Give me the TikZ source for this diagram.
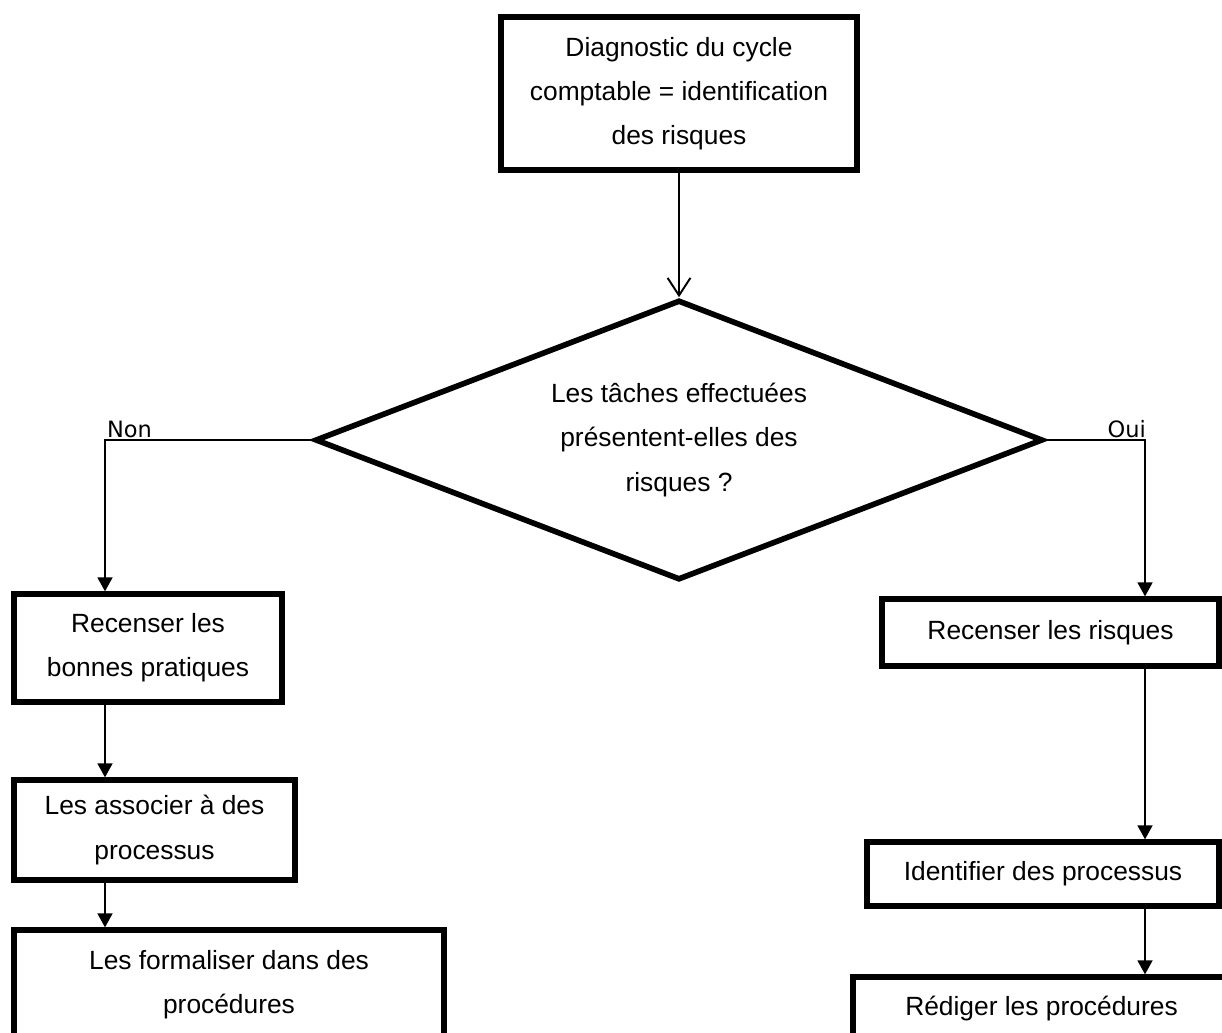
\documentclass[tikz,border=0pt]{standalone}
\usepackage{fontspec}
\setmainfont{Liberation Sans}
\newfontfamily\reponsefont{DejaVu Sans}
\usetikzlibrary{
	shapes.geometric,
	arrows.meta
}
\tikzset{
	x=0.02cm,
	y=-0.02cm,
	etape/.style={
		draw, line width=3pt, align=center, inner sep=0pt,
		font=\fontsize{15pt}{25.2pt}\selectfont
	},
	decision/.style={
		draw, diamond, aspect=2.6, line width=3.2pt, align=center, inner sep=0pt,
		font=\fontsize{15pt}{25.2pt}\selectfont
	},
	fleche/.style={
		line width=1.1pt,
		-{Triangle[width=8.5pt,length=8pt]}
	},
	reponse/.style={
		font=\reponsefont\fontsize{12.8pt}{15pt}\selectfont,
		inner sep=1pt
	}
}

\begin{document}
\begin{tikzpicture}
	\useasboundingbox (0,0) rectangle (1222,1032);
	\draw
		node[etape,minimum width=7.12cm,minimum height=3.06cm] (diag) at (679,93.5) {Diagnostic du cycle\\comptable = identification\\des risques}
		node[decision,minimum width=14.56cm,minimum height=5.6cm] (taches) at (679,440) {Les tâches effectuées\\présentent-elles des\\risques ?}

		node[etape,minimum width=5.36cm,minimum height=2.16cm] (bonnes) at (148,648) {Recenser les\\bonnes pratiques}
		node[etape,minimum width=5.62cm,minimum height=2cm] (associer) at (154.5,830) {Les associer à des\\processus}
		node[etape,minimum width=8.6cm,minimum height=2.2cm] (formaliser) at (229,985) {Les formaliser dans des\\procédures}

		node[etape,minimum width=6.74cm,minimum height=1.34cm] (risques) at (1050.5,632.5) {Recenser les risques}
		node[etape,minimum width=7.04cm,minimum height=1.28cm] (processus) at (1043,874) {Identifier des processus}
		node[etape,minimum width=7.54cm,minimum height=1.26cm] (rediger) at (1041.5,1008.5) {Rédiger les procédures}
	;
	\coordinate (non) at (105,440);
	\coordinate (oui) at (1145,440);
	\node[reponse,anchor=south west] (lnon) at (non) {Non};
	\node[reponse,anchor=south east] (loui) at ([xshift=0.06cm]oui) {Oui};

	\draw[line width=1.1pt,-{Straight Barb[width=13pt,length=10pt]}] (diag) -- (taches);
	\draw[fleche] (taches.west) -- (non) -- (non |- bonnes.north);
	\draw[fleche] (non |- bonnes.south) -- (non |- associer.north);
	\draw[fleche] (non |- associer.south) -- (non |- formaliser.north);
	\draw[fleche] (taches.east) -- (oui) -- (oui |- risques.north);
	\draw[fleche] (oui |- risques.south) -- (oui |- processus.north);
	\draw[fleche] (oui |- processus.south) -- (oui |- rediger.north);
\end{tikzpicture}
\end{document}
